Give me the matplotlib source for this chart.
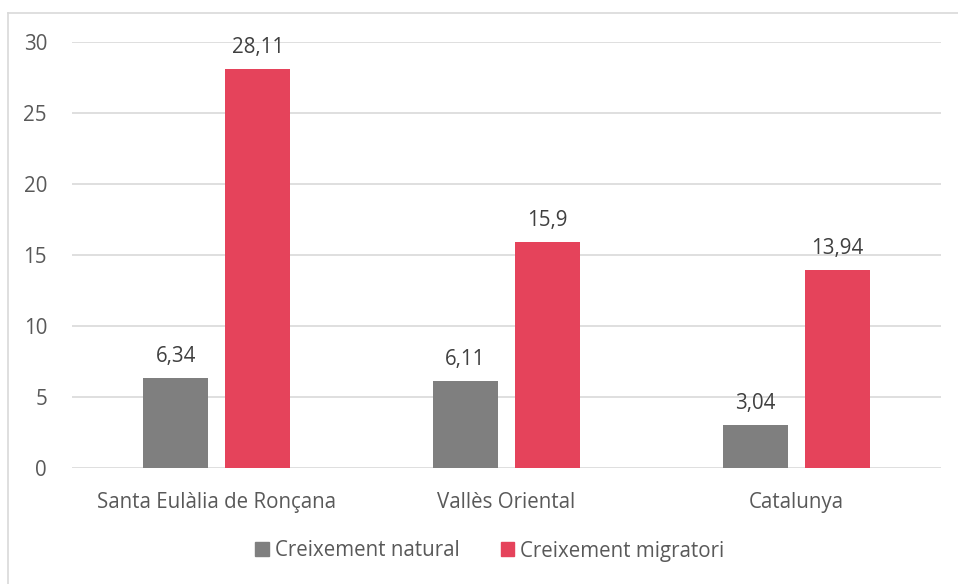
import matplotlib.pyplot as plt
import numpy as np
from matplotlib.lines import Line2D
from matplotlib.patches import Patch

# Data
categories = ["Santa Eulàlia de Ronçana", "Vallès Oriental", "Catalunya"]
natural = [6.34, 6.11, 3.04]
migratori = [28.11, 15.9, 13.94]
natural_labels = ["6,34", "6,11", "3,04"]
migratori_labels = ["28,11", "15,9", "13,94"]
series_names = ["Creixement natural", "Creixement migratori"]

GRAY = "#7f7f7f"
RED = "#e5435b"
TEXT = "#595959"
GRID = "#d9d9d9"

plt.rcParams["font.family"] = ["Open Sans", "DejaVu Sans"]
FS = 14.8

W, H = 958, 584
fig = plt.figure(figsize=(W / 100, H / 100), dpi=100)
ax = fig.add_axes([72 / W, 1 - 468 / H, (941 - 72) / W, (468 - 42) / H])

x = np.arange(len(categories))
bw = 0.224
off = 0.1416
b1 = ax.bar(x - off, natural, bw, color=GRAY, zorder=3)
b2 = ax.bar(x + off, migratori, bw, color=RED, zorder=3)

# value labels above the bars
for bars, labels in ((b1, natural_labels), (b2, migratori_labels)):
    for rect, lab in zip(bars, labels):
        ax.annotate(lab, (rect.get_x() + rect.get_width() / 2, rect.get_height()),
                    xytext=(0, 8), textcoords="offset points",
                    ha="center", va="bottom", fontsize=FS, color="#404040")

ax.set_xlim(-0.5, 2.5)
ax.set_ylim(0, 30)
ax.set_yticks(range(0, 31, 5))
ax.set_xticks(x)
ax.set_xticklabels(categories)
ax.tick_params(axis="both", length=0, labelsize=FS, labelcolor=TEXT)
ax.tick_params(axis="y", pad=18)
ax.tick_params(axis="x", pad=17)
ax.grid(axis="y", color=GRID, linewidth=1.2, zorder=0)
for s in ax.spines.values():
    s.set_visible(False)

handles = [Patch(color=GRAY), Patch(color=RED)]
fig.legend(handles, series_names, loc="center", bbox_to_anchor=(490 / W, 1 - 551 / H),
           ncol=2, frameon=False, fontsize=FS, labelcolor=TEXT,
           handlelength=0.65, handleheight=0.65, handletextpad=0.3, columnspacing=2.0)

# chart border (left and top visible)
fig.add_artist(Line2D([8 / W, 8 / W], [0, 1 - 13 / H], color=GRID, linewidth=1.2))
fig.add_artist(Line2D([8 / W, 1], [1 - 13 / H, 1 - 13 / H], color=GRID, linewidth=1.2))

fig.savefig("out.png", dpi=100)
